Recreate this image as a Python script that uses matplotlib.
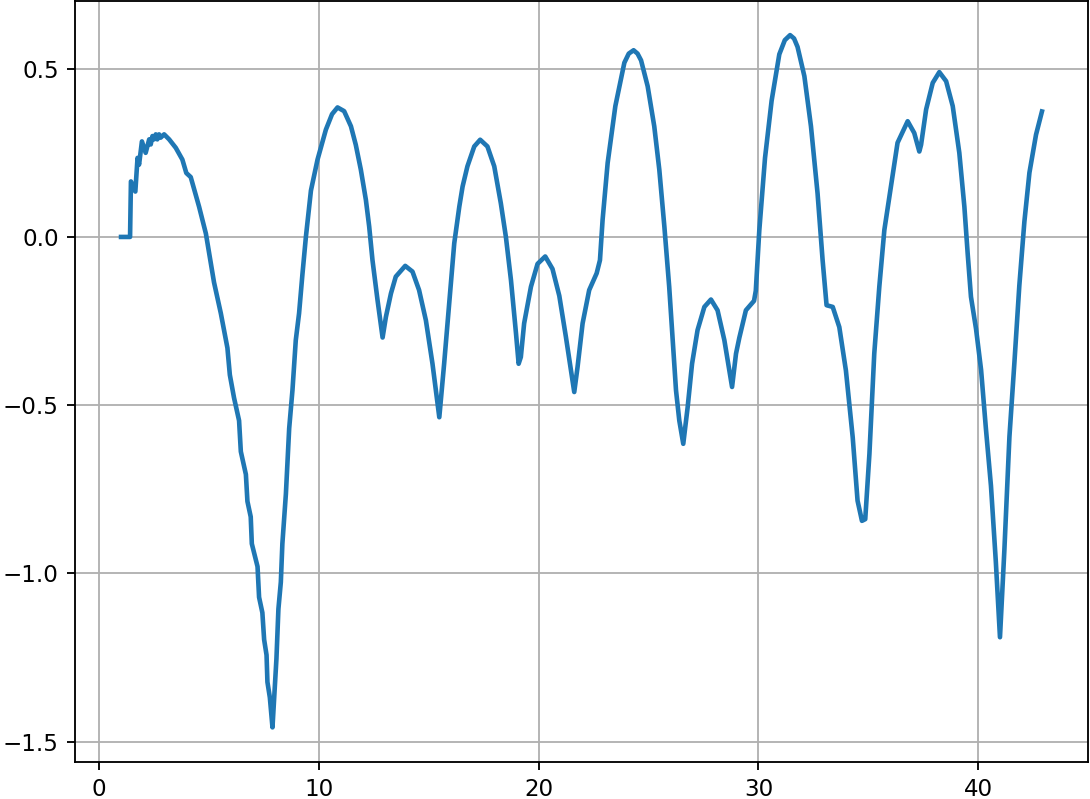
import matplotlib
matplotlib.use("Agg")
import matplotlib.pyplot as plt

x_values = [
    1.00, 1.41, 1.45, 1.65, 1.75, 1.82, 1.95, 2.12, 2.28, 2.35, 2.43, 2.50, 2.58, 2.65,
    2.73, 2.80, 2.96, 3.19, 3.49, 3.79, 3.97, 4.17, 4.55, 4.86, 5.23, 5.54, 5.84, 5.95,
    6.14, 6.37, 6.45, 6.68, 6.75, 6.90, 6.95, 7.21, 7.28, 7.43, 7.51, 7.62, 7.66, 7.77,
    7.89, 8.07, 8.16, 8.27, 8.34, 8.50, 8.65, 8.80, 8.95, 9.10, 9.25, 9.41, 9.64, 9.94,
    10.32, 10.60, 10.85, 11.15, 11.46, 11.68, 11.91, 12.14, 12.29, 12.44, 12.67, 12.90, 13.05,
    13.28, 13.50, 13.93, 14.26, 14.56, 14.87, 15.17, 15.48, 15.70, 15.93, 16.16, 16.39,
    16.54, 16.76, 17.07, 17.34, 17.67, 17.98, 18.28, 18.51, 18.74, 18.97, 19.09, 19.19,
    19.34, 19.65, 19.95, 20.30, 20.63, 20.94, 21.24, 21.47, 21.62, 21.77, 22.00, 22.30,
    22.64, 22.79, 22.91, 23.14, 23.49, 23.90, 24.10, 24.32, 24.50, 24.66, 24.96, 25.26, 25.49, 25.72,
    25.94, 26.09, 26.25, 26.40, 26.58, 26.78, 26.98, 27.23, 27.54, 27.84, 28.14, 28.45,
    28.80, 28.98, 29.13, 29.43, 29.80, 29.88, 30.04, 30.30, 30.60, 30.95, 31.20, 31.44, 31.62, 31.78,
    32.09, 32.39, 32.69, 32.92, 33.10, 33.38, 33.68, 33.98, 34.29, 34.51, 34.71, 34.86,
    35.05, 35.27, 35.50, 35.73, 36.03, 36.33, 36.79, 37.09, 37.32, 37.40, 37.63, 37.93,
    38.23, 38.54, 38.84, 39.14, 39.37, 39.52, 39.67, 39.90, 40.13, 40.35, 40.58, 40.80,
    40.99, 41.19, 41.42, 41.65, 41.87, 42.10, 42.33, 42.63, 42.90,
]

y_values = [
    0.0, 0.0, 0.165, 0.135, 0.235, 0.215, 0.284, 0.25, 0.29, 0.275, 0.30, 0.29, 0.305, 0.29,
    0.305, 0.295, 0.305, 0.29, 0.265, 0.23, 0.19, 0.178, 0.09, 0.01, -0.135, -0.227, -0.33, -0.41,
    -0.478, -0.546, -0.638, -0.706, -0.786, -0.832, -0.912, -0.98, -1.071, -1.117, -1.197, -1.243, -1.323, -1.369,
    -1.458, -1.254, -1.106, -1.026, -0.912, -0.764, -0.569, -0.455, -0.307, -0.227, -0.113, 0.0, 0.138, 0.23,
    0.319, 0.365, 0.385, 0.374, 0.329, 0.274, 0.2, 0.11, 0.031, -0.069, -0.188, -0.299, -0.238,
    -0.168, -0.118, -0.086, -0.103, -0.158, -0.248, -0.377, -0.536, -0.377, -0.198, -0.019, 0.09,
    0.15, 0.21, 0.269, 0.289, 0.269, 0.21, 0.1, 0.0, -0.128, -0.287, -0.377, -0.357,
    -0.257, -0.148, -0.08, -0.058, -0.095, -0.175, -0.297, -0.397, -0.461, -0.387, -0.257, -0.158,
    -0.108, -0.069, 0.051, 0.22, 0.389, 0.518, 0.545, 0.555, 0.545, 0.525, 0.448, 0.329, 0.2, 0.031,
    -0.148, -0.297, -0.456, -0.546, -0.615, -0.506, -0.377, -0.277, -0.208, -0.186, -0.218, -0.307,
    -0.446, -0.347, -0.30, -0.218, -0.19, -0.16, 0.02, 0.235, 0.405, 0.543, 0.585, 0.600, 0.590, 0.565,
    0.478, 0.329, 0.13, -0.069, -0.203, -0.208, -0.268, -0.397, -0.596, -0.784, -0.844, -0.839,
    -0.645, -0.347, -0.148, 0.021, 0.15, 0.28, 0.344, 0.309, 0.254, 0.274, 0.379, 0.458,
    0.49, 0.463, 0.389, 0.25, 0.09, -0.049, -0.178, -0.273, -0.395, -0.57, -0.74, -0.964,
    -1.19, -0.931, -0.594, -0.37, -0.145, 0.045, 0.191, 0.304, 0.373,
]

DPI = 166
fig = plt.figure(figsize=(1090 / DPI, 799 / DPI), dpi=DPI)
ax = fig.add_axes([75 / 1090, (799 - 762) / 799, (1088 - 75) / 1090, (762 - 0.5) / 799])
ax.plot(x_values, y_values, color="#1f77b4", linewidth=2.0)
ax.grid(True)
fig.savefig("out.png", dpi=DPI)
